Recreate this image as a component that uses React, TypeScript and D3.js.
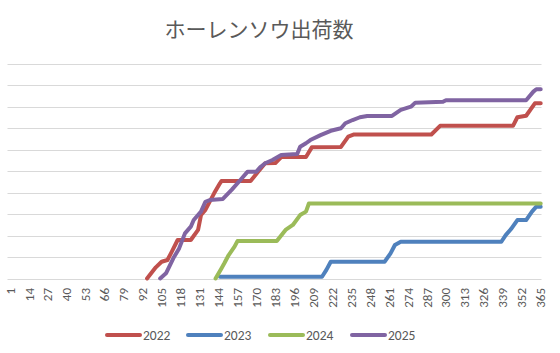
import React from 'react';
import * as d3 from 'd3';

const W = 560;
const H = 353;

const title = 'ホーレンソウ出荷数';
const years = ['2022', '2023', '2024', '2025'];
const colors = ['#C0504D', '#4F81BD', '#9BBB59', '#8064A2'];

// cumulative shipments as [day, value] breakpoints (gridline units)
const s2022: [number, number][] = [
  [95, 0], [101, 0.52], [105, 0.78], [109, 0.86], [112, 1.25], [116, 1.79], [125, 1.79],
  [130, 2.26], [132, 2.95], [135, 3.19], [141, 3.96], [145, 4.43], [146, 4.53], [166, 4.53],
  [171, 4.95], [176, 5.36], [183, 5.37], [187, 5.65], [204, 5.65], [208, 6.1], [228, 6.12],
  [233, 6.6], [237, 6.7], [290, 6.7], [296, 7.1], [346, 7.1], [349, 7.5], [355, 7.57],
  [361, 8.15], [365, 8.15],
];
const s2023: [number, number][] = [
  [145, 0.08], [215, 0.08], [218, 0.4], [221, 0.78], [258, 0.78], [262, 1.17], [265, 1.56],
  [269, 1.71], [338, 1.71], [341, 2.02], [345, 2.33], [349, 2.72], [355, 2.72], [359, 3.11],
  [362, 3.34], [365, 3.34],
];
const s2024: [number, number][] = [
  [142, 0], [146, 0.47], [148, 0.71], [151, 1.09], [155, 1.48], [157, 1.74], [184, 1.74],
  [190, 2.26], [195, 2.49], [200, 2.95], [204, 3.11], [206, 3.49], [365, 3.49],
];
const s2025: [number, number][] = [
  [104, 0], [108, 0.24], [113, 0.94], [117, 1.4], [121, 2.1], [125, 2.41], [127, 2.72],
  [132, 3.11], [135, 3.57], [138, 3.65], [147, 3.7], [153, 4.12], [159, 4.58], [164, 4.97],
  [170, 4.97], [173, 5.2], [176, 5.36], [181, 5.51], [187, 5.74], [198, 5.79], [200, 6.13],
  [204, 6.29], [207, 6.44], [214, 6.67], [221, 6.87], [228, 6.99], [231, 7.22], [236, 7.37],
  [241, 7.5], [246, 7.56], [263, 7.56], [269, 7.84], [276, 7.99], [279, 8.18], [298, 8.22],
  [300, 8.29], [355, 8.29], [360, 8.69], [362, 8.8], [365, 8.8],
];
const series = [s2022, s2023, s2024, s2025];

const xTicks = d3.range(1, 366, 13);
const yTicks = d3.range(0, 11, 1);

const plot = { left: 7.5, right: 541.5, top: 63.5, bottom: 278.5 };

export default function App() {
  const x = d3.scaleLinear().domain([1, 365]).range([10, 540.7]);
  const y = d3.scaleLinear().domain([0, 10]).range([plot.bottom, plot.top]);
  const line = d3
    .line<[number, number]>()
    .x((d) => x(d[0]))
    .y((d) => y(d[1]));

  const legendX = [107, 188, 270, 352];
  const font = "Calibri, 'Liberation Sans', Arial, sans-serif";

  return (
    <svg
      width={W}
      height={H}
      style={{ position: 'absolute', left: 0, top: 0, background: '#fff' }}
      fontFamily={font}
    >
      <rect width={W} height={H} fill="#fff" />
      <text
        x={259}
        y={37}
        textAnchor="middle"
        fontSize={21}
        fill="#595959"
        fontFamily="'Noto Sans CJK JP', sans-serif"
      >
        {title}
      </text>

      {yTicks.map((t) => (
        <line
          key={t}
          x1={plot.left}
          x2={plot.right}
          y1={Math.round(y(t)) + 0.5}
          y2={Math.round(y(t)) + 0.5}
          stroke="#D9D9D9"
          strokeWidth={1}
        />
      ))}

      {xTicks.map((t) => (
        <text
          key={t}
          transform={`translate(${x(t)},288) rotate(-90)`}
          textAnchor="end"
          dy="0.35em"
          fontSize={13}
          fill="#595959"
        >
          {t}
        </text>
      ))}

      {series.map((s, i) => (
        <path
          key={years[i]}
          d={line(s) || ''}
          fill="none"
          stroke={colors[i]}
          strokeWidth={4}
          strokeLinejoin="round"
          strokeLinecap="round"
        />
      ))}

      {years.map((yr, i) => (
        <g key={yr} transform={`translate(${legendX[i]},335)`}>
          <line x1={0} x2={33} y1={0} y2={0} stroke={colors[i]} strokeWidth={4} strokeLinecap="round" />
          <text x={36} y={0} dy="0.35em" fontSize={13.5} fill="#595959">
            {yr}
          </text>
        </g>
      ))}
    </svg>
  );
}
